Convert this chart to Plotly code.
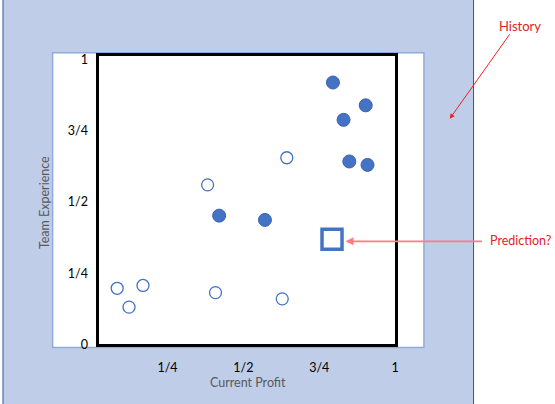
import plotly.graph_objects as go

# ---- data ----
tick_vals = [0, 0.25, 0.5, 0.75, 1]
y_tick_text = ["0", "1/4", "1/2", "3/4", "1"]
x_tick_vals = [0.25, 0.5, 0.75, 1]
x_tick_text = ["1/4", "1/2", "3/4", "1"]

filled_x = [0.795, 0.903, 0.830, 0.849, 0.909, 0.420, 0.571]
filled_y = [0.919, 0.839, 0.788, 0.642, 0.630, 0.452, 0.437]

open_x = [0.643, 0.382, 0.084, 0.169, 0.123, 0.408, 0.628]
open_y = [0.655, 0.560, 0.197, 0.207, 0.131, 0.182, 0.160]

pred_x = [0.792]
pred_y = [0.369]

W, H = 555, 404
BLUE = "#4472C4"
RED = "#E02424"
FONT = "Lato"


def px(x):
    return x / W


def py(y):
    return 1 - y / H


fig = go.Figure()
fig.add_trace(go.Scatter(
    x=open_x, y=open_y, mode="markers", name="open",
    marker=dict(size=12, color="white", line=dict(color=BLUE, width=1.3)),
))
fig.add_trace(go.Scatter(
    x=filled_x, y=filled_y, mode="markers", name="filled",
    marker=dict(size=13, color=BLUE, line=dict(color="#3A62AE", width=1)),
))
fig.add_trace(go.Scatter(
    x=pred_x, y=pred_y, mode="markers", name="prediction",
    marker=dict(symbol="square", size=20, color="white",
                line=dict(color=BLUE, width=3.5)),
))

shapes = [
    dict(type="rect", xref="paper", yref="paper", layer="below",
         x0=px(3), x1=px(477), y0=-0.02, y1=1.02,
         fillcolor="#BFCDE9", line=dict(color="#2F5597", width=1)),
    dict(type="rect", xref="paper", yref="paper", layer="below",
         x0=px(53), x1=px(427), y0=py(353), y1=py(50),
         fillcolor="white", line=dict(color="#8FAADC", width=1.5)),
]


def label(text, x, y, size=12.5, color="#595959", angle=0, xanchor="center"):
    return dict(text=text, xref="paper", yref="paper", x=px(x), y=py(y),
                xanchor=xanchor, yanchor="middle", showarrow=False,
                textangle=angle, font=dict(family=FONT, size=size, color=color))


annotations = [
    label("Current Profit", 250, 389),
    label("Team Experience", 45, 204, angle=-90),
    label("History", 524, 23, size=13, color=RED),
    dict(text="", xref="paper", yref="paper",
         x=px(453), y=py(118), ax=61, ay=-86,
         showarrow=True, arrowhead=2, arrowsize=1, arrowwidth=1,
         arrowcolor="#F02020"),
    label("Prediction?", 492, 243, color=RED, xanchor="left"),
    dict(text="", xref="paper", yref="paper",
         x=px(348), y=py(244), ax=138, ay=0,
         showarrow=True, arrowhead=2, arrowsize=1, arrowwidth=1.6,
         arrowcolor="#FF7C80"),
]

fig.update_layout(
    width=W, height=H,
    margin=dict(l=0, r=0, t=0, b=0),
    paper_bgcolor="white",
    plot_bgcolor="rgba(0,0,0,0)",
    showlegend=False,
    shapes=shapes,
    annotations=annotations,
    font=dict(family=FONT, size=12.5, color="black"),
    xaxis=dict(
        domain=[px(100), px(398)], range=[0.025, 1.0],
        tickvals=x_tick_vals, ticktext=x_tick_text,
        showgrid=False, zeroline=False,
        showline=True, mirror=True, linecolor="black", linewidth=2.5,
        ticks="", ticklabelstandoff=10,
        tickfont=dict(family=FONT, size=12.5, color="black"),
    ),
    yaxis=dict(
        domain=[py(350), py(53)], range=[0, 1.0136],
        tickvals=tick_vals, ticktext=y_tick_text,
        showgrid=False, zeroline=False,
        showline=True, mirror=True, linecolor="black", linewidth=2.5,
        ticks="", ticklabelstandoff=6,
        tickfont=dict(family=FONT, size=12.5, color="black"),
    ),
)

fig.write_html(
    "out.html",
    config={"displayModeBar": False},
    post_script="document.body.style.margin='0';document.body.style.overflow='hidden';",
)
